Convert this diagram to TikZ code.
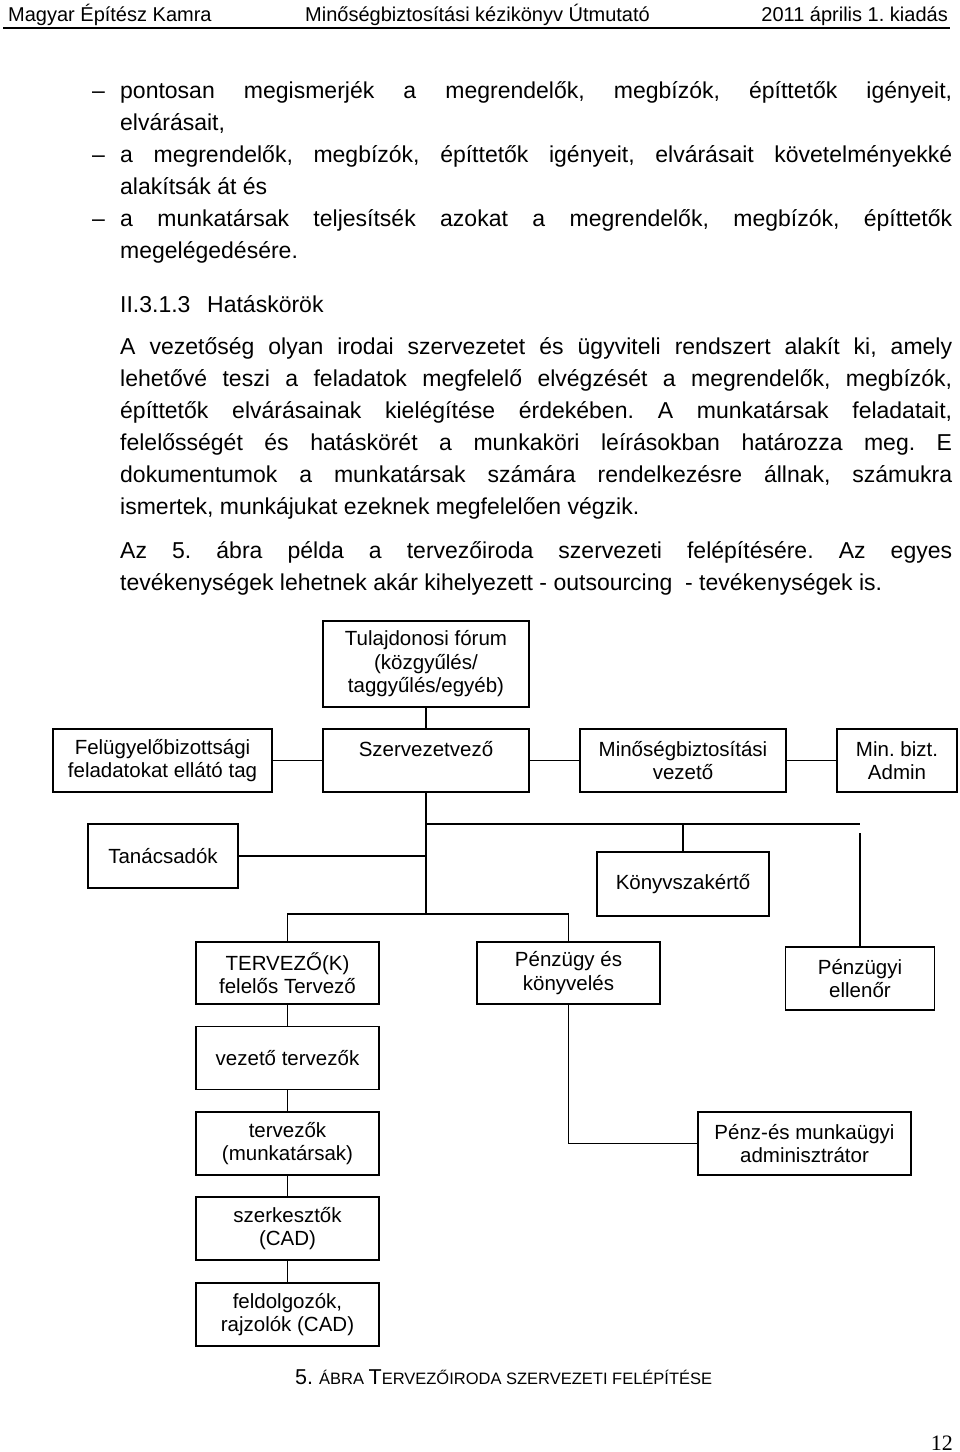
\documentclass[tikz,border=0pt]{standalone}
\usepackage{fontspec}
\setmainfont{Liberation Sans}
\newfontfamily\pgnumfont{Liberation Serif}
\usetikzlibrary{positioning,calc}
\frenchspacing
\newcommand{\headfont}{\fontsize{20}{24}\selectfont}
\newcommand{\bodyfont}{\fontsize{23}{32}\selectfont}
\newcommand{\boxfont}{\fontsize{20.5}{23.5}\selectfont}
\newcommand{\capfont}{\fontsize{21.5}{24}\selectfont}
\newcommand{\smallcap}[1]{{\fontsize{16.5}{20}\selectfont #1}}
\newcommand{\jline}[1]{\makebox[832pt][s]{#1}}

\begin{document}
\begin{tikzpicture}[
    x=1pt,
    y=-1pt,
    head/.style={inner sep=0pt, font=\headfont},
    txt/.style={inner sep=0pt, anchor=base west, font=\bodyfont},
    orgbox/.style={draw, line width=1.3pt, inner sep=1pt, align=center, font=\boxfont, minimum height=63pt},
    link/.style={line width=1.3pt}
]
\useasboundingbox[fill=white] (0,0) rectangle (960,1452);

% page header
\node[head, anchor=base west] (h1) at (8,21) {Magyar Építész Kamra};
\node[head, anchor=base west] (h2) at (305,21) {Minőségbiztosítási kézikönyv Útmutató};
\node[head, anchor=base east] (h3) at (948,21) {2011 április 1. kiadás};
\coordinate (rl) at (3,28);
\coordinate (rr) at (950,28);
\draw[line width=1.1pt] (rl) -- (rr);

% bullet list
\node[txt] (d1) at (92,98) {–};
\node[txt] (b1) at (120,98) {\jline{pontosan megismerjék a megrendelők, megbízók, építtetők igényeit,}};
\node[txt] (b2) at (120,130) {elvárásait,};
\node[txt] (d2) at (92,162) {–};
\node[txt] (b3) at (120,162) {\jline{a megrendelők, megbízók, építtetők igényeit, elvárásait követelményekké}};
\node[txt] (b4) at (120,194) {alakítsák át és};
\node[txt] (d3) at (92,226) {–};
\node[txt] (b5) at (120,226) {\jline{a munkatársak teljesítsék azokat a megrendelők, megbízók, építtetők}};
\node[txt] (b6) at (120,258) {megelégedésére.};

% section
\node[txt] (s1) at (120,312) {II.3.1.3};
\node[txt] (s2) at (207,312) {Hatáskörök};
\node[txt] (p1) at (120,354) {\jline{A vezetőség olyan irodai szervezetet és ügyviteli rendszert alakít ki, amely}};
\node[txt] (p2) at (120,386) {\jline{lehetővé teszi a feladatok megfelelő elvégzését a megrendelők, megbízók,}};
\node[txt] (p3) at (120,418) {\jline{építtetők elvárásainak kielégítése érdekében. A munkatársak feladatait,}};
\node[txt] (p4) at (120,450) {\jline{felelősségét és hatáskörét a munkaköri leírásokban határozza meg. E}};
\node[txt] (p5) at (120,482) {\jline{dokumentumok a munkatársak számára rendelkezésre állnak, számukra}};
\node[txt] (p6) at (120,514) {ismertek, munkájukat ezeknek megfelelően végzik.};
\node[txt] (q1) at (120,558) {\jline{Az 5. ábra példa a tervezőiroda szervezeti felépítésére. Az egyes}};
\node[txt] (q2) at (120,590) {tevékenységek lehetnek akár kihelyezett - outsourcing \ - tevékenységek is.};

% org chart
\node[orgbox, minimum width=206pt, minimum height=86pt] (forum) at (426,664) {Tulajdonosi fórum\\(közgyűlés/\\taggyűlés/egyéb)};
\node[orgbox, minimum width=206pt] (szvez) at (426,760.5) {Szervezetvező\\\mbox{}};
\node[orgbox, minimum width=219pt] (felugy) at (162.5,760.5) {Felügyelőbizottsági\\feladatokat ellátó tag};
\node[orgbox, minimum width=206pt] (minbv) at (683,760.5) {Minőségbiztosítási\\vezető};
\node[orgbox, minimum width=120pt] (admin) at (897,760.5) {Min. bizt.\\Admin};
\node[orgbox, minimum width=150pt, minimum height=64pt] (tanacs) at (163,856) {Tanácsadók};
\node[orgbox, minimum width=172pt, minimum height=64pt] (konyv) at (683,884) {Könyvszakértő};
\node[orgbox, minimum width=183pt, minimum height=62pt] (tervezo) at (287.5,973) {TERVEZŐ(K)\\felelős Tervező};
\node[orgbox, minimum width=183pt, minimum height=62pt] (penzugy) at (568.5,973) {Pénzügy és\\könyvelés};
\node[orgbox, minimum width=149pt] (ellenor) at (860,978.5) {Pénzügyi\\ellenőr};
\node[orgbox, minimum width=183pt] (veztervezo) at (287.5,1058) {vezető tervezők};
\node[orgbox, minimum width=183pt] (tervezok) at (287.5,1143.5) {tervezők\\(munkatársak)};
\node[orgbox, minimum width=213pt] (penzes) at (804.5,1143.5) {Pénz-és munkaügyi\\adminisztrátor};
\node[orgbox, minimum width=183pt] (szerk) at (287.5,1228.5) {szerkesztők\\(CAD)};
\node[orgbox, minimum width=183pt] (feldolg) at (287.5,1314.5) {feldolgozók,\\rajzolók (CAD)};

\coordinate (j1) at (426,824);
\coordinate (j2) at (426,914);
\coordinate (hend) at (860,824);
\coordinate (vtop) at (860,833);

\draw[link] (forum) -- (szvez);
\draw[link] (felugy) -- (szvez);
\draw[link] (szvez) -- (minbv);
\draw[link] (minbv) -- (admin);
\draw[link] (szvez.south) -- (j2);
\draw[link] (j1) -- (hend);
\draw[link] (konyv.north) -- (konyv.north |- j1);
\draw[link] (vtop) -- (ellenor.north);
\draw[link] (tanacs.east) -- (tanacs.east -| j1);
\draw[link] (tervezo.north) |- (j2) -| (penzugy.north);
\draw[link] (tervezo) -- (veztervezo);
\draw[link] (veztervezo) -- (tervezok);
\draw[link] (tervezok) -- (szerk);
\draw[link] (szerk) -- (feldolg);
\draw[link] (penzugy.south) |- (penzes.west);

% caption and page number
\node[inner sep=0pt, anchor=base west, font=\capfont] (cap) at (295,1384) {5. \smallcap{ÁBRA }T\smallcap{ERVEZŐIRODA SZERVEZETI FELÉPÍTÉSE}};
\node[inner sep=0pt, anchor=base east, font=\pgnumfont\fontsize{22}{26}\selectfont] (pg) at (953,1450) {12};
\end{tikzpicture}
\end{document}
